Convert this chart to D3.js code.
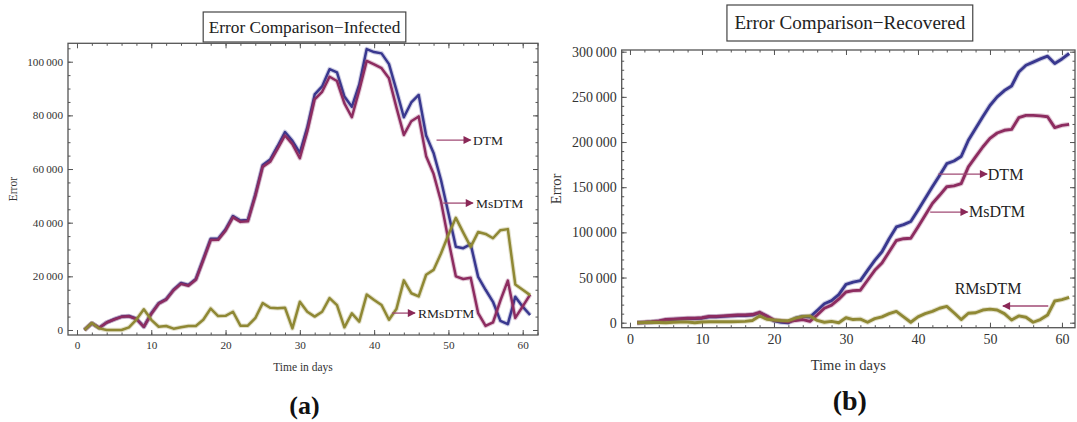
<!DOCTYPE html>
<html>
<head>
<meta charset="utf-8">
<style>
body, html {
	margin: 0;
	background: #fff;
}
svg { display: block; }
</style>
</head>
<body>
<div id="chartContainer"></div>

<script src="https://cdn.jsdelivr.net/npm/d3@7/dist/d3.min.js"></script>
<script>

// days 1..61
const days = d3.range(1, 62);

// (a) infected
const infectedDTM = [0, 2500, 800, 2800, 4000, 5000, 5200, 4200, 1200, 6200,
	10000, 11500, 15000, 17500, 16800, 19000, 26500, 34000, 34000, 37500,
	42500, 40800, 41000, 50500, 61500, 63500, 68500, 73800, 70500, 66000,
	75500, 87800, 90800, 97200, 96000, 87000, 83200, 91500, 104700, 103600,
	103100, 99100, 89400, 79300, 84800, 87600, 72500, 66000, 55900, 43500,
	31000, 30500, 32000, 19800, 15000, 10500, 3400, 2200, 12400, 8700, 5600];
const infectedMsDTM = [0, 2500, 800, 2800, 3900, 4900, 5100, 4100, 1200, 6000,
	9800, 11300, 14800, 17200, 16500, 18700, 26000, 33500, 33600, 37000,
	42000, 40300, 40500, 49800, 60800, 62700, 67500, 72500, 69300, 64000,
	74000, 86000, 88800, 94400, 92800, 84500, 79300, 89400, 100300, 99000,
	97600, 93800, 83000, 72700, 77800, 79600, 64800, 58200, 48000, 33500,
	20000, 19000, 19500, 6300, 1500, 2800, 11000, 18400, 4500, 8800, 13200];
const infectedRMsDTM = [0, 2600, 600, 0, 0, 0, 1000, 3900, 7700, 3800,
	1200, 1500, 500, 1000, 1500, 1500, 3800, 8000, 5200, 5300,
	6800, 1600, 1600, 4400, 10000, 8300, 8100, 8300, 600, 10500,
	6800, 5000, 6800, 11900, 9300, 1000, 6200, 3100, 13200, 11200,
	9300, 3800, 7800, 18500, 13700, 12500, 20600, 22400, 28500, 35500,
	41800, 36300, 31000, 36500, 35800, 34200, 37200, 37600, 17000, 15000, 13000];

// (b) recovered
const recoveredDTM = [0, 300, 800, 1500, 3000, 3500, 4000, 4500, 4500, 5000,
	6500, 6500, 7000, 7500, 8000, 8000, 8500, 11000, 7000, 2000,
	500, 0, 5000, 7000, 6300, 13500, 21000, 24500, 31000, 42500,
	45000, 46500, 58000, 69000, 78500, 93000, 106000, 108500, 112000, 124500,
	137500, 150500, 163000, 176000, 179000, 184000, 202000, 215000, 228000, 240500,
	250000, 257000, 262000, 277500, 285000, 288500, 292000, 295000, 287000, 292000, 298000];
const recoveredMsDTM = [0, 500, 1000, 2000, 3500, 4000, 4500, 5000, 5000, 5500,
	7000, 7000, 7500, 8000, 8500, 8500, 9000, 11500, 7500, 3000,
	2000, 1000, 2500, 3500, 1500, 8500, 16000, 19500, 26000, 34000,
	35500, 36000, 47000, 58000, 66000, 78500, 91000, 93000, 93500, 106000,
	119000, 132000, 141000, 150500, 151500, 154000, 172500, 183500, 194500, 204000,
	210000, 213000, 214000, 227000, 229500, 229500, 229000, 228000, 216000, 218500, 219500];
const recoveredRMsDTM = [0, 300, 500, 300, 0, 500, 700, 700, 0, 800,
	1000, 1000, 1000, 1000, 1200, 1500, 2500, 7500, 3800, 3000,
	2500, 2200, 5000, 7000, 7500, 2500, 500, 1500, 0, 5500,
	3500, 4000, 500, 4500, 6500, 10000, 12500, 6500, 500, 6500,
	10000, 12500, 16000, 18000, 11000, 3500, 10500, 11000, 14000, 15000,
	14000, 10000, 3000, 7500, 6000, 500, 3500, 8500, 24000, 25500, 28000];

const xTicks = [0, 10, 20, 30, 40, 50, 60];
const infectedYTicks = [0, 20000, 40000, 60000, 80000, 100000];
const recoveredYTicks = [0, 50000, 100000, 150000, 200000, 250000, 300000];

const COLOR_DTM = '#39388f';
const COLOR_MSDTM = '#8d2c60';
const COLOR_RMSDTM = '#8f8834';
const ARROW_COLOR = '#8a2857';
const FRAME_COLOR = '#555';
const TEXT_COLOR = '#333';
const SERIF = '"Liberation Serif", "Times New Roman", serif';

var svg = d3.select("#chartContainer").append("svg")
	.attr("width", 1077).attr("height", 422);
svg.append("rect").attr("width", 1077).attr("height", 422).attr("fill", "#fff");

var defs = svg.append("defs");
defs.append("marker")
	.attr("id", "arrowHead")
	.attr("viewBox", "0 0 10 10")
	.attr("refX", 9).attr("refY", 5)
	.attr("markerUnits", "userSpaceOnUse")
	.attr("markerWidth", 11).attr("markerHeight", 8)
	.attr("orient", "auto")
	.append("path")
	.attr("d", "M0,0 L10,5 L0,10 Z")
	.attr("fill", ARROW_COLOR);

const panels = [{
	id: "a",
	left: 68, right: 538, top: 43.3, bottom: 335,
	xDomain: [-1.21, 62.06], yDomain: [-1864, 106860],
	yTicks: infectedYTicks, yMinorStep: 5000,
	series: [
		{values: infectedDTM, color: COLOR_DTM},
		{values: infectedMsDTM, color: COLOR_MSDTM},
		{values: infectedRMsDTM, color: COLOR_RMSDTM}
	],
	lineWidth: 2.5,
	title: "Error Comparison\u2212Infected", titleSize: 17.3, titleBox: {y0: 12, y1: 42, padX: 5.5},
	tickSize: 11.2, axisSize: 11.5, xLabelY: 367, yLabelX: 13,
	labelSize: 13.5,
	notes: [
		{text: "DTM", tail: [48.4, 70800], head: [53.0, 70800], at: [53.3, 70800]},
		{text: "MsDTM", tail: [49.3, 47300], head: [53.3, 47300], at: [53.7, 47300]},
		{text: "RMsDTM", tail: [42.4, 6300], head: [45.5, 6300], at: [45.9, 6300]}
	],
	caption: "(a)", captionSize: 26, captionY: 405
}, {
	id: "b",
	left: 621.7, right: 1075, top: 50, bottom: 327.7,
	xDomain: [-1.15, 61.81], yDomain: [-5535, 301882],
	yTicks: recoveredYTicks, yMinorStep: 10000,
	series: [
		{values: recoveredDTM, color: COLOR_DTM},
		{values: recoveredMsDTM, color: COLOR_MSDTM},
		{values: recoveredRMsDTM, color: COLOR_RMSDTM}
	],
	lineWidth: 2.9,
	title: "Error Comparison\u2212Recovered", titleSize: 19.1, titleBox: {y0: 5, y1: 41, padX: 7.5},
	tickSize: 14, axisSize: 14.5, xLabelY: 365, yLabelX: 556,
	labelSize: 16,
	notes: [
		{text: "DTM", tail: [42.8, 164500], head: [49.6, 164500], at: [49.7, 164500]},
		{text: "MsDTM", tail: [41.7, 122500], head: [46.9, 122500], at: [47.1, 122500]},
		{text: "RMsDTM", tail: [58.1, 18500], head: [51.8, 18500], at: [45.1, 37300]}
	],
	caption: "(b)", captionSize: 28, captionY: 400
}];

var numberFormat = (v) => d3.format(",")(v).replace(/,/g, "\u2009");

function styleAxis(g) {
	g.select(".domain").remove();
	g.selectAll(".tick line").attr("stroke", FRAME_COLOR).attr("stroke-width", 1);
	g.selectAll(".tick text").attr("fill", TEXT_COLOR).attr("font-family", SERIF);
}

function drawPanel(p) {
	var g = svg.append("g").attr("class", "panel-" + p.id);
	var x = d3.scaleLinear().domain(p.xDomain).range([p.left, p.right]);
	var y = d3.scaleLinear().domain(p.yDomain).range([p.bottom, p.top]);

	var xMinor = d3.range(0, p.xDomain[1], 2);
	var yMinor = d3.range(0, p.yDomain[1], p.yMinorStep);

	// minor ticks on all four sides
	g.append("g").attr("transform", `translate(0,${p.bottom})`)
		.call(d3.axisBottom(x).tickValues(xMinor).tickSize(-2.5).tickFormat("")).call(styleAxis);
	g.append("g").attr("transform", `translate(0,${p.top})`)
		.call(d3.axisTop(x).tickValues(xMinor).tickSize(-2.5).tickFormat("")).call(styleAxis);
	g.append("g").attr("transform", `translate(${p.left},0)`)
		.call(d3.axisLeft(y).tickValues(yMinor).tickSize(-2.5).tickFormat("")).call(styleAxis);
	g.append("g").attr("transform", `translate(${p.right},0)`)
		.call(d3.axisRight(y).tickValues(yMinor).tickSize(-2.5).tickFormat("")).call(styleAxis);

	// major ticks
	g.append("g").attr("transform", `translate(0,${p.bottom})`)
		.call(d3.axisBottom(x).tickValues(xTicks).tickSize(-5).tickPadding(6))
		.call(styleAxis)
		.selectAll(".tick text").attr("font-size", p.tickSize);
	g.append("g").attr("transform", `translate(0,${p.top})`)
		.call(d3.axisTop(x).tickValues(xTicks).tickSize(-5).tickFormat("")).call(styleAxis);
	g.append("g").attr("transform", `translate(${p.left},0)`)
		.call(d3.axisLeft(y).tickValues(p.yTicks).tickSize(-5).tickPadding(5).tickFormat(numberFormat))
		.call(styleAxis)
		.selectAll(".tick text").attr("font-size", p.tickSize);
	g.append("g").attr("transform", `translate(${p.right},0)`)
		.call(d3.axisRight(y).tickValues(p.yTicks).tickSize(-5).tickFormat("")).call(styleAxis);

	// frame
	g.append("rect")
		.attr("x", p.left).attr("y", p.top)
		.attr("width", p.right - p.left).attr("height", p.bottom - p.top)
		.attr("fill", "none").attr("stroke", FRAME_COLOR).attr("stroke-width", 1.3);

	// lines
	var clipId = "clip-" + p.id;
	defs.append("clipPath").attr("id", clipId).append("rect")
		.attr("x", p.left).attr("y", p.top)
		.attr("width", p.right - p.left).attr("height", p.bottom - p.top);

	var line = d3.line()
		.x((d, i) => x(days[i]))
		.y((d) => y(d));

	var lines = g.append("g").attr("clip-path", `url(#${clipId})`);
	p.series.forEach(function(s) {
		lines.append("path")
			.attr("d", line(s.values))
			.attr("fill", "none")
			.attr("stroke", s.color)
			.attr("stroke-opacity", 0.25)
			.attr("stroke-width", p.lineWidth + 2.1)
			.attr("stroke-linejoin", "round");
		lines.append("path")
			.attr("d", line(s.values))
			.attr("fill", "none")
			.attr("stroke", s.color)
			.attr("stroke-width", p.lineWidth)
			.attr("stroke-linejoin", "round");
	});

	// arrows and labels
	p.notes.forEach(function(n) {
		g.append("line")
			.attr("x1", x(n.tail[0])).attr("y1", y(n.tail[1]))
			.attr("x2", x(n.head[0])).attr("y2", y(n.head[1]))
			.attr("stroke", "#a04a74")
			.attr("stroke-width", 1.3)
			.attr("marker-end", "url(#arrowHead)");
		g.append("text")
			.attr("x", x(n.at[0])).attr("y", y(n.at[1]))
			.attr("dy", "0.34em")
			.attr("font-family", SERIF)
			.attr("font-size", p.labelSize)
			.attr("fill", "#222")
			.text(n.text);
	});

	// axis labels
	g.append("text")
		.attr("x", (p.left + p.right) / 2).attr("y", p.xLabelY)
		.attr("dy", "0.34em")
		.attr("text-anchor", "middle")
		.attr("font-family", SERIF).attr("font-size", p.axisSize)
		.attr("fill", TEXT_COLOR)
		.text("Time in days");
	g.append("text")
		.attr("transform", `translate(${p.yLabelX},${(p.top + p.bottom) / 2}) rotate(-90)`)
		.attr("dy", "0.34em")
		.attr("text-anchor", "middle")
		.attr("font-family", SERIF).attr("font-size", p.axisSize)
		.attr("fill", TEXT_COLOR)
		.text("Error");

	// title with box
	var cx = (p.left + p.right) / 2 + 1.5;
	var titleBox = g.append("rect");
	var title = g.append("text")
		.attr("x", cx).attr("y", (p.titleBox.y0 + p.titleBox.y1) / 2)
		.attr("dy", "0.34em")
		.attr("text-anchor", "middle")
		.attr("font-family", SERIF).attr("font-size", p.titleSize)
		.attr("fill", "#222")
		.text(p.title);
	var w = title.node().getComputedTextLength();
	titleBox
		.attr("x", cx - w / 2 - p.titleBox.padX).attr("y", p.titleBox.y0)
		.attr("width", w + 2 * p.titleBox.padX).attr("height", p.titleBox.y1 - p.titleBox.y0)
		.attr("fill", "#fff").attr("stroke", "#444").attr("stroke-width", 1.2);

	// caption
	g.append("text")
		.attr("x", cx).attr("y", p.captionY)
		.attr("dy", "0.34em")
		.attr("text-anchor", "middle")
		.attr("font-family", SERIF).attr("font-size", p.captionSize)
		.attr("font-weight", "bold")
		.attr("fill", "#111")
		.text(p.caption);
}

panels.forEach(drawPanel);

</script>
</body>
</html>
